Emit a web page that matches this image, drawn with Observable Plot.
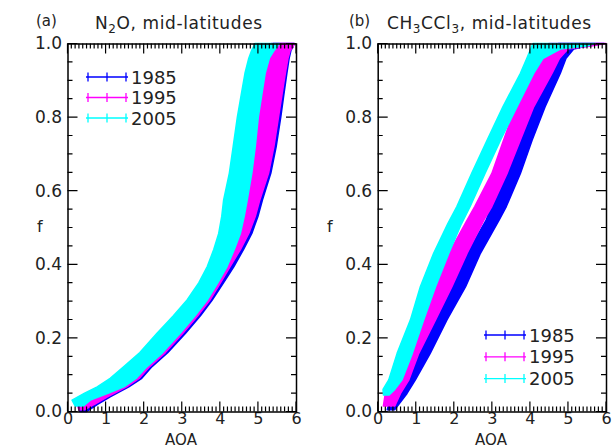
<!DOCTYPE html>
<html><head><meta charset="utf-8">
<script src="https://cdn.jsdelivr.net/npm/d3@7"></script>
<script src="https://cdn.jsdelivr.net/npm/@observablehq/plot@0.6"></script>
<style>
body{margin:0;background:#fff;}
#wrap{position:relative;width:614px;height:446px;overflow:hidden;}
.panel{position:absolute;top:0;}
</style></head><body><div id="wrap"></div>
<script>
// ---------- data ----------
const years = ["1985", "1995", "2005"];
const colors = ["#0000ff", "#ff00ff", "#00ffff"];
const xTicks = [0, 1, 2, 3, 4, 5, 6];
const yTicks = [0, 0.2, 0.4, 0.6, 0.8, 1.0];

// Panel (a) N2O : band edges (AOA left / right) at each f
const a1985_f  = [0.0, 0.02, 0.04, 0.067, 0.09, 0.122, 0.16, 0.2125, 0.26, 0.303, 0.35, 0.394, 0.44, 0.484, 0.53, 0.575, 0.648, 0.72, 0.80, 0.86, 0.919, 0.96, 0.982, 0.99, 1.0];
const a1985_lo = [0.32, 0.32, 0.65, 1.05, 1.35, 1.65, 2.05, 2.5, 2.95, 3.3, 3.6, 3.85, 4.05, 4.2, 4.35, 4.45, 4.65, 4.8, 4.9, 5.0, 5.1, 5.2, 5.3, 5.35, 5.4];
const a1985_hi = [0.5, 0.8, 1.12, 1.61, 1.95, 2.22, 2.63, 3.10, 3.49, 3.80, 4.1, 4.37, 4.62, 4.84, 5.0, 5.12, 5.34, 5.48, 5.60, 5.68, 5.76, 5.82, 5.87, 5.92, 5.95];
const a1995_f  = [0.005, 0.02, 0.04, 0.067, 0.09, 0.122, 0.16, 0.2125, 0.26, 0.303, 0.35, 0.394, 0.44, 0.484, 0.53, 0.575, 0.648, 0.72, 0.80, 0.86, 0.919, 0.96, 0.982, 0.99, 1.0];
const a1995_lo = [0.3, 0.25, 0.6, 1.0, 1.3, 1.6, 2.0, 2.45, 2.9, 3.25, 3.55, 3.8, 4.0, 4.15, 4.3, 4.4, 4.6, 4.75, 4.85, 4.95, 5.05, 5.15, 5.25, 5.3, 5.35];
const a1995_hi = [0.45, 0.72, 1.05, 1.55, 1.88, 2.16, 2.57, 3.03, 3.42, 3.74, 4.02, 4.27, 4.54, 4.76, 4.93, 5.05, 5.28, 5.42, 5.54, 5.63, 5.72, 5.79, 5.85, 5.92, 5.95];
const a2005_f  = [0.015, 0.031, 0.05, 0.067, 0.09, 0.122, 0.16, 0.2125, 0.26, 0.303, 0.35, 0.394, 0.44, 0.484, 0.53, 0.575, 0.648, 0.72, 0.80, 0.86, 0.919, 0.96, 0.982, 0.99, 1.0];
const a2005_lo = [0.2, 0.12, 0.45, 0.78, 1.12, 1.48, 1.9, 2.35, 2.78, 3.14, 3.45, 3.67, 3.84, 3.97, 4.05, 4.10, 4.25, 4.35, 4.46, 4.56, 4.66, 4.76, 4.84, 4.88, 4.92];
const a2005_hi = [0.42, 0.60, 1.08, 1.48, 1.80, 2.09, 2.5, 2.96, 3.35, 3.67, 3.95, 4.19, 4.38, 4.54, 4.64, 4.72, 4.84, 4.93, 5.01, 5.10, 5.19, 5.30, 5.43, 5.5, 5.55];

// Panel (b) CH3CCl3
const b1985_f  = [0.005, 0.049, 0.086, 0.158, 0.249, 0.339, 0.430, 0.520, 0.557, 0.647, 0.738, 0.828, 0.919, 0.96, 0.985, 0.993, 1.0];
const b1985_lo = [0.25, 0.38, 0.60, 0.95, 1.43, 1.91, 2.35, 2.85, 2.98, 3.27, 3.66, 3.95, 4.3, 4.5, 4.6, 4.7, 4.75];
const b1985_hi = [0.45, 0.77, 0.99, 1.38, 1.82, 2.31, 2.70, 3.19, 3.38, 3.75, 4.06, 4.40, 4.80, 4.95, 5.15, 5.5, 5.95];
const b1995_f  = [0.015, 0.049, 0.086, 0.158, 0.249, 0.339, 0.430, 0.520, 0.557, 0.647, 0.738, 0.828, 0.919, 0.96, 0.985, 0.993, 1.0];
const b1995_lo = [0.15, 0.20, 0.46, 0.73, 1.04, 1.43, 1.87, 2.35, 2.55, 3.0, 3.31, 3.62, 4.0, 4.2, 4.35, 4.45, 4.5];
const b1995_hi = [0.45, 0.60, 0.82, 1.08, 1.52, 1.95, 2.35, 2.79, 3.0, 3.40, 3.75, 4.10, 4.58, 4.78, 5.0, 5.6, 6.0];
const b2005_f  = [0.045, 0.06, 0.086, 0.158, 0.249, 0.339, 0.430, 0.510, 0.557, 0.647, 0.738, 0.828, 0.919, 0.96, 0.985, 0.993, 1.0];
const b2005_lo = [0.15, 0.14, 0.29, 0.51, 0.86, 1.12, 1.47, 1.84, 2.08, 2.47, 2.88, 3.29, 3.75, 3.92, 4.02, 4.05, 4.08];
const b2005_hi = [0.3, 0.45, 0.64, 0.91, 1.21, 1.52, 1.87, 2.2, 2.43, 2.82, 3.23, 3.66, 4.10, 4.35, 4.8, 5.5, 5.7];

// ---------- build ----------
const rows = (f, lo, hi) => f.map((v, i) => ({f: v, lo: lo[i], hi: hi[i]}));
const panelA = [rows(a1985_f, a1985_lo, a1985_hi), rows(a1995_f, a1995_lo, a1995_hi), rows(a2005_f, a2005_lo, a2005_hi)];
const panelB = [rows(b1985_f, b1985_lo, b1985_hi), rows(b1995_f, b1995_lo, b1995_hi), rows(b2005_f, b2005_lo, b2005_hi)];
const xMinor = d3.range(0, 60.5).map(d => d / 10);
const yMinor = d3.range(0, 20.5).map(d => d / 20);

const W = 307, H = 446, MT = 43.5, MB = 34.5;
const FONT = "DejaVu Sans";
function panel(series, mLeft, mRight) {
  const marks = [];
  series.forEach((s, i) => {
    marks.push(Plot.areaX(s, {y: "f", x1: "lo", x2: "hi", fill: colors[i], stroke: colors[i], strokeWidth: 1.5, curve: "linear"}));
  });
  marks.push(Plot.axisX(xTicks, {anchor: "bottom", tickSize: 0, tickPadding: 2, dy: -1, tickFormat: d3.format("d"), label: null, fontSize: 16}));
  marks.push(Plot.axisY(yTicks, {anchor: "left", tickSize: 0, tickPadding: 6, tickFormat: d3.format(".1f"), label: null, fontSize: 17}));
  marks.push(Plot.frame({stroke: "#000", strokeWidth: 1.5}));
  return Plot.plot({
    width: W, height: H,
    marginLeft: mLeft, marginRight: mRight, marginTop: MT, marginBottom: MB,
    x: {domain: [0, 6]}, y: {domain: [0, 1]},
    style: {fontFamily: FONT, background: "transparent", overflow: "visible", color: "#222"},
    marks
  });
}

// inward ticks on all four sides, placed with the plot's own scales
function ticks(svgNode) {
  const sx = svgNode.scale("x"), sy = svgNode.scale("y");
  const [x0, x1] = sx.range, [y0, y1] = sy.range; // y0 bottom, y1 top
  let d = "";
  for (const [xs, ys, len] of [[xMinor, yMinor, 5], [xTicks, yTicks, 10]]) {
    xs.forEach(v => {
      const px = sx.apply(v);
      d += `M${px},${y0}V${y0 - len}M${px},${y1}V${y1 + len}`;
    });
    ys.forEach(v => {
      const py = sy.apply(v);
      d += `M${x0},${py}H${x0 + len}M${x1},${py}H${x1 - len}`;
    });
  }
  d3.select(svgNode).append("path").attr("d", d).attr("fill", "none")
    .attr("stroke", "#000").attr("stroke-width", 1.2);
}

function decorate(svgNode, o) {
  const svg = d3.select(svgNode);
  const g = svg.append("g").attr("font-family", FONT).attr("fill", "#222").attr("text-anchor", "start");
  g.append("text").attr("x", o.tagX).attr("y", 26).attr("font-size", 15).text(o.tag);
  const t = g.append("text").attr("x", o.titleX).attr("y", 28.5).attr("font-size", 17).attr("letter-spacing", 0.6);
  let prevSub = false;
  o.title.forEach(([s, sub]) => {
    const span = t.append("tspan").attr("dy", sub ? 4 : (prevSub ? -4 : 0)).text(s);
    if (sub) span.attr("font-size", 12);
    prevSub = !!sub;
  });
  g.append("text").attr("x", o.fX).attr("y", 232).attr("font-size", 16).text("f");
  g.append("text").attr("x", o.aoaX).attr("y", 445).attr("font-size", 15).attr("text-anchor", "middle").text("AOA");
  // legend (paths with plus markers)
  years.forEach((yr, i) => {
    const y = o.legY + i * o.legDy, x0 = o.legX;
    let d = `M${x0},${y}H${x0 + 42}`;
    [2, 21, 40].forEach(k => { d += `M${x0 + k},${y - 4.5}V${y + 4.5}`; });
    svg.append("path").attr("d", d).attr("fill", "none").attr("stroke", colors[i]).attr("stroke-width", 1.3);
    g.append("text").attr("x", x0 + 45).attr("y", y + 6.5).attr("font-size", 18).text(yr);
  });
}

const wrap = document.getElementById("wrap");
const pa = panel(panelA, 67.5, 11); pa.classList.add("panel"); pa.style.left = "0px"; wrap.appendChild(pa);
const pb = panel(panelB, 70.7, 8); pb.classList.add("panel"); pb.style.left = "307px"; wrap.appendChild(pb);

ticks(pa); ticks(pb);
decorate(pa, {tag: "(a)", tagX: 36, titleX: 95, title: [["N"], ["2", true], ["O, mid-latitudes"]],
  fX: 37, aoaX: 181, legX: 86, legY: 77, legDy: 20.5});
decorate(pb, {tag: "(b)", tagX: 42, titleX: 80, title: [["CH"], ["3", true], ["CCl"], ["3", true], [", mid-latitudes"]],
  fX: 20, aoaX: 184, legX: 177, legY: 335, legDy: 21.8});
</script>
</body></html>
